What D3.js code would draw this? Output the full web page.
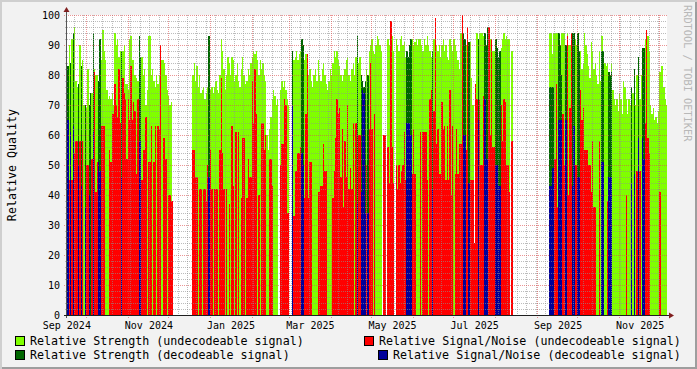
<!DOCTYPE html>
<html>
<head>
<meta charset="utf-8">
<script src="https://cdn.jsdelivr.net/npm/d3@7"></script>
<style>
  html, body { margin: 0; padding: 0; background: #f2f2f2; }
  svg { display: block; font-family: "DejaVu Sans Mono", monospace; }
</style>
</head>
<body>
<div id="chart"></div>
<script>
// rrdtool style quality graph, one value per day, day 0 = 2024-09-17
const _ = null;

// undecodeable signal: strength + signal/noise, one entry per day
const strengthUndec = [
  _,90,_,92,_,96,78,76,_,90,
  _,85,70,_,69,82,_,_,74,_,
  82,80,80,_,_,85,95,88,85,75,
  72,73,72,74,70,94,90,92,86,88,
  _,88,90,77,77,75,92,93,85,85,
  80,79,78,_,_,86,80,82,70,75,
  93,93,80,82,78,76,80,77,80,85,
  85,85,84,80,75,73,70,71,_,_,
  _,_,_,_,_,_,_,_,_,_,
  _,_,_,80,84,78,83,76,80,74,
  75,76,72,74,76,_,75,76,74,76,
  78,75,74,80,92,88,82,75,80,86,
  84,80,86,85,78,80,84,78,76,82,
  86,80,77,78,82,80,84,86,88,87,
  88,85,80,85,82,84,80,78,60,55,
  62,66,72,75,73,70,72,_,75,78,
  76,78,75,72,70,_,_,_,85,86,
  88,85,87,88,_,_,85,87,84,80,
  82,78,76,80,82,78,85,80,78,82,
  84,80,77,75,78,82,80,84,88,86,
  88,85,83,80,78,80,82,85,86,80,
  78,82,84,80,86,_,84,86,_,_,
  _,_,82,_,88,90,92,88,87,90,
  93,92,90,88,_,_,_,_,92,90,
  94,93,88,_,92,90,88,92,93,90,
  91,86,_,_,_,_,92,90,91,92,
  90,92,92,90,88,92,90,93,90,88,
  86,_,92,94,90,88,90,86,90,92,
  88,90,86,85,92,90,88,92,90,88,
  85,82,94,90,_,_,90,92,_,91,
  79,70,_,77,94,_,94,94,94,93,
  _,_,_,95,92,92,88,88,_,_,
  _,_,89,92,94,92,93,92,92,_,
  88,_,_,_,_,_,_,_,_,_,
  _,_,_,_,_,_,_,_,_,_,
  _,_,_,_,_,_,_,_,94,94,
  87,94,94,94,94,_,_,94,94,94,
  _,94,90,90,94,_,_,92,90,_,
  _,88,82,84,94,90,87,83,79,91,
  88,82,84,80,77,88,78,93,_,84,
  83,84,_,_,84,75,72,70,72,68,
  74,72,67,78,76,72,67,72,70,_,
  74,_,70,80,_,72,80,_,_,92,
  92,93,88,70,67,69,65,66,64,68,
  81,83,83,76,72,70
];

const snrUndec = [
  _,45,_,45,_,54,58,58,_,58,
  _,58,_,_,50,50,_,_,52,_,
  81,41,51,_,_,63,63,63,_,_,
  _,55,51,67,67,77,70,66,82,64,
  _,79,74,72,52,72,65,83,65,71,
  68,47,72,_,_,45,55,55,66,_,
  51,51,63,_,51,63,_,63,62,90,
  _,59,59,52,_,40,40,38,38,_,
  _,_,_,_,_,_,_,_,_,_,
  _,_,_,55,55,46,46,_,42,42,
  _,42,42,38,50,_,55,42,_,42,
  42,42,_,55,79,54,42,_,42,_,
  37,_,63,43,_,61,_,61,_,39,
  59,59,_,39,52,46,46,78,64,82,
  67,_,40,_,64,64,55,60,_,_,
  52,52,43,_,_,_,_,_,50,57,
  57,72,70,34,34,_,_,_,33,48,
  48,54,54,56,_,_,39,67,87,39,
  51,51,_,_,_,_,41,41,43,43,
  57,48,48,_,_,_,_,39,48,59,
  72,67,69,46,62,36,58,46,70,42,
  49,42,64,_,64,_,60,60,_,_,
  _,_,50,_,62,84,62,_,67,_,
  _,_,_,_,_,60,60,_,56,44,
  98,56,44,_,50,42,50,44,48,50,
  61,45,_,_,_,_,47,62,47,_,
  _,_,61,_,61,61,61,45,_,72,
  75,_,68,99,57,62,47,47,71,62,
  63,45,63,45,75,40,63,_,47,62,
  47,57,57,100,_,_,55,96,_,45,
  45,45,24,77,72,_,72,50,50,73,
  _,_,_,96,60,92,56,56,_,_,
  _,_,70,58,72,71,50,50,41,_,
  58,_,_,_,_,_,_,_,_,_,
  _,_,_,_,_,_,_,_,_,_,
  _,_,_,_,_,_,_,_,_,_,
  _,_,52,77,36,_,_,_,67,50,
  _,93,40,69,94,_,_,50,50,_,
  _,75,65,69,55,55,55,50,50,41,
  58,36,36,_,_,58,_,_,_,_,
  _,38,_,_,_,_,_,_,_,_,
  _,_,_,_,_,40,_,_,_,_,
  _,_,_,48,_,48,_,_,_,64,
  95,59,54,_,_,_,_,_,_,_,
  41,_,_,_,_,_
];

// decodeable signal, only on some days
const decDay = [0,2,4,8,10,13,16,17,19,23,24,40,53,54,105,167,174,175,215,218,
  219,220,221,223,252,253,254,255,271,294,295,298,305,310,311,312,318,319,320,321,
  358,359,360,361,365,366,367,370,375,376,379,380,397,398,402,403,404,419,421,424,427,428];
const strengthDec = [83,84,94,77,83,70,70,74,94,78,92,88,93,86,93,88,92,90,93,80,
  78,76,78,80,88,86,90,92,88,94,92,91,92,94,90,96,92,89,86,88,
  76,76,76,76,94,90,80,90,94,94,94,88,88,88,81,80,81,76,82,86,89,89];
const snrDec = [65,61,63,50,43,36,40,_,61,51,48,46,58,58,46,70,54,50,37,41,
  75,74,34,34,64,64,64,60,42,60,60,44,65,72,52,52,50,50,43,43,
  43,43,49,49,65,65,65,65,43,63,46,46,51,51,46,46,46,44,47,59,59,52];

const yTicks = [0,10,20,30,40,50,60,70,80,90,100];
const xLabels = ["Sep 2024","Nov 2024","Jan 2025","Mar 2025","May 2025","Jul 2025","Sep 2025","Nov 2025"];

const legendItems = [
  { name: "Relative Strength (undecodeable signal)",     color: "#80ff00", col: 0, row: 0 },
  { name: "Relative Signal/Noise (undecodeable signal)", color: "#ff0000", col: 1, row: 0 },
  { name: "Relative Strength  (decodeable signal)",      color: "#006600", col: 0, row: 1 },
  { name: "Relative Signal/Noise (decodeable signal)",   color: "#000099", col: 1, row: 1 }
];

const W = 697, H = 369;
const L = 67, R = 667, T = 15, B = 315;

const DAY = 864e5;
const day0 = Date.UTC(2024, 8, 17);

const x = d3.scaleUtc()
  .domain([new Date(Date.UTC(2024, 8, 16, 21)), new Date(Date.UTC(2025, 11, 6, 16))])
  .range([L, R]);
const y = d3.scaleLinear().domain([0, 100]).range([B, T]);

const svg = d3.select("#chart").append("svg")
  .attr("width", W).attr("height", H);

svg.append("rect").attr("width", W).attr("height", H).attr("fill", "#f2f2f2");
// shade frame like rrdtool
svg.append("path").attr("d", `M0,0H${W}V2H2V${H}H0Z`).attr("fill", "#cfcfcf");
svg.append("path").attr("d", `M${W},${H}H2V${H-2}H${W-2}V2H${W}Z`).attr("fill", "#9e9e9e");

svg.append("rect").attr("x", L).attr("y", T).attr("width", R - L).attr("height", B - T).attr("fill", "#fff");

// day columns snapped to whole pixels
function col(i) {
  const x0 = Math.round(x(new Date(day0 + i * DAY)));
  const x1 = Math.min(R, Math.round(x(new Date(day0 + (i + 1) * DAY))));
  return [x0, Math.max(0, x1 - x0)];
}

function drawSeries(days, vals, color) {
  const rows = days.map((d, k) => ({ d, v: vals[k] })).filter(r => r.v != null);
  svg.append("g").attr("shape-rendering", "crispEdges")
    .selectAll("rect").data(rows).join("rect")
    .attr("x", r => col(r.d)[0])
    .attr("width", r => col(r.d)[1])
    .attr("y", r => Math.round(y(r.v)))
    .attr("height", r => B - Math.round(y(r.v)))
    .attr("fill", color);
}

const allDays = strengthUndec.map((v, i) => i);
drawSeries(allDays, strengthUndec, legendItems[0].color);
drawSeries(decDay, strengthDec, legendItems[2].color);
drawSeries(allDays, snrUndec, legendItems[1].color);
drawSeries(decDay, snrDec, legendItems[3].color);

// grid, dotted, drawn over the areas
const minorCol = "rgba(143,143,143,0.6)";
const majorCol = "rgba(222,79,79,0.6)";
const grid = svg.append("g").attr("shape-rendering", "crispEdges").attr("stroke-dasharray", "1,1");

const t0 = x.domain()[0], t1 = x.domain()[1];
const months = d3.utcMonth.range(t0, t1);
const weeks = d3.utcSunday.range(t0, t1).filter(d => d.getUTCDate() !== 1);

grid.selectAll("line.wk").data(weeks).join("line")
  .attr("x1", d => Math.round(x(d)) + 0.5).attr("x2", d => Math.round(x(d)) + 0.5)
  .attr("y1", T).attr("y2", B + 2)
  .attr("stroke", minorCol);

const hMinor = d3.range(2, 100, 2).filter(v => v % 10 !== 0);
grid.selectAll("line.hm").data(hMinor).join("line")
  .attr("x1", L - 2).attr("x2", R)
  .attr("y1", v => Math.round(y(v)) + 0.5).attr("y2", v => Math.round(y(v)) + 0.5)
  .attr("stroke", minorCol);

grid.selectAll("line.mo").data(months).join("line")
  .attr("x1", d => Math.round(x(d)) + 0.5).attr("x2", d => Math.round(x(d)) + 0.5)
  .attr("y1", T).attr("y2", B + 3)
  .attr("stroke", majorCol);

grid.selectAll("line.hM").data(yTicks.filter(v => v > 0)).join("line")
  .attr("x1", L - 3).attr("x2", R)
  .attr("y1", v => Math.round(y(v)) + 0.5).attr("y2", v => Math.round(y(v)) + 0.5)
  .attr("stroke", majorCol);

// axes + arrows
const axisCol = "#1f1f1f";
svg.append("line").attr("x1", L - 0.5).attr("x2", L - 0.5).attr("y1", B + 3).attr("y2", 11)
  .attr("stroke", "#555").attr("shape-rendering", "crispEdges");
svg.append("line").attr("x1", L - 3).attr("x2", R + 3).attr("y1", B + 0.5).attr("y2", B + 0.5)
  .attr("stroke", axisCol).attr("shape-rendering", "crispEdges");
svg.append("path").attr("d", `M${L - 0.5},7 L${L + 2.5},12 L${L - 3.5},12 Z`).attr("fill", "#801f1f");
svg.append("path").attr("d", `M${R + 7},${B + 0.5} L${R + 2},${B - 2.5} L${R + 2},${B + 3.5} Z`).attr("fill", "#801f1f");

// y labels
svg.append("g").selectAll("text").data(yTicks).join("text")
  .attr("x", 60).attr("y", v => y(v) + 3.5)
  .attr("text-anchor", "end")
  .attr("font-size", 10)
  .attr("fill", "#000")
  .text(v => v);

// x labels, centred on the month (rrdtool style)
const parseMonth = d3.utcParse("%b %Y");
svg.append("g").selectAll("text").data(xLabels).join("text")
  .attr("x", s => x(new Date(+parseMonth(s) + 15 * DAY)) + 1)
  .attr("y", 328.5)
  .attr("text-anchor", "middle")
  .attr("font-size", 10)
  .attr("fill", "#000")
  .text(s => s);

// y title
svg.append("text")
  .attr("transform", `translate(16,${(T + B) / 2}) rotate(-90)`)
  .attr("text-anchor", "middle")
  .attr("font-size", 11.67)
  .text("Relative Quality");

// watermark
svg.append("text")
  .attr("transform", `translate(684,5) rotate(90)`)
  .attr("font-size", 10.3)
  .attr("fill", "#b8b8b8")
  .text("RRDTOOL / TOBI OETIKER");

// legend
const leg = svg.append("g");
legendItems.forEach(it => {
  const base = it.row === 0 ? 345 : 359;
  const t = leg.append("text")
    .attr("y", base)
    .attr("font-size", 11.67)
    .attr("fill", "#000")
    .text(it.name);
  let tx;
  if (it.col === 0) {
    tx = 30;
    t.attr("x", tx);
  } else {
    const w = t.node().getComputedTextLength();
    tx = Math.round(680.5 - w);
    t.attr("x", tx);
  }
  leg.append("rect")
    .attr("x", tx - 14.5).attr("y", base - 8.5)
    .attr("width", 9).attr("height", 9)
    .attr("fill", it.color).attr("stroke", "#000")
    .attr("shape-rendering", "crispEdges");
});
</script>
</body>
</html>
